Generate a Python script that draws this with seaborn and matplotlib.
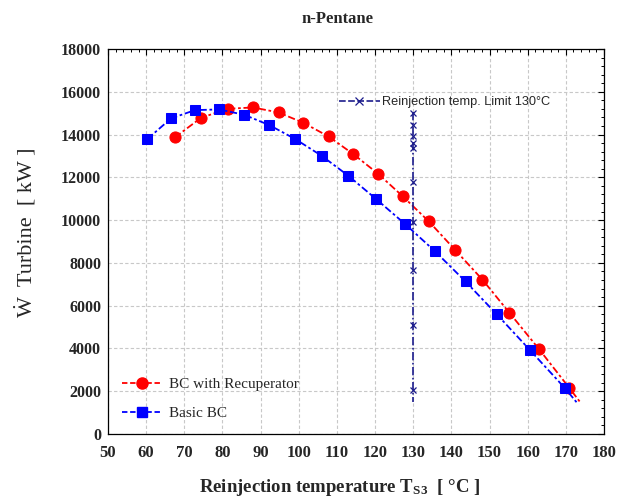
import matplotlib
matplotlib.use("Agg")
import matplotlib.pyplot as plt
from matplotlib.ticker import AutoMinorLocator
from matplotlib.lines import Line2D
import seaborn as sns
import pandas as pd

# ---- data ----
recup_T = [67.5, 74.4, 81.4, 88.0, 94.7, 101.2, 107.8, 114.3, 120.8, 127.3, 134.1,
           140.9, 148.1, 155.2, 162.9, 170.9, 173.7]
recup_W = [13864, 14784, 15205, 15267, 15034, 14550, 13911, 13085, 12165, 11105, 9937,
           8621, 7223, 5670, 3984, 2155, 1500]

basic_T = [60.3, 66.5, 72.8, 79.1, 85.7, 92.3, 99.1, 106.0, 113.0, 120.3, 127.9,
           135.7, 143.7, 151.9, 160.6, 169.7, 172.8]
basic_W = [13787, 14753, 15143, 15174, 14924, 14441, 13787, 13007, 12072, 10981, 9811,
           8544, 7130, 5596, 3922, 2155, 1487]

limit_T = [130, 130, 130, 130, 130, 130, 130, 130, 130, 130, 130, 130]
limit_W = [15060, 14987, 14441, 13926, 13583, 13350, 11791, 9920, 7689, 5080, 2078, 1490]

x_ticks = [50, 60, 70, 80, 90, 100, 110, 120, 130, 140, 150, 160, 170, 180]
y_ticks = [0, 2000, 4000, 6000, 8000, 10000, 12000, 14000, 16000, 18000]

title = "n-Pentane"
label_recup = "BC with Recuperator"
label_basic = "Basic BC"
label_limit = "Reinjection temp. Limit 130°C"

# ---- style ----
sns.set_theme(style="white")
plt.rcParams["font.family"] = ["Liberation Serif", "DejaVu Serif"]
plt.rcParams["mathtext.fontset"] = "stix"

fig = plt.figure(figsize=(6.37, 5.01), dpi=100)
ax = fig.add_axes([108 / 637, 1 - 434 / 501, 496 / 637, 385 / 501])

df_r = pd.DataFrame({"T": recup_T, "W": recup_W})
df_b = pd.DataFrame({"T": basic_T, "W": basic_W})
df_l = pd.DataFrame({"T": limit_T, "W": limit_W})

red = "#ff0000"
blue = "#0000ff"
navy = "#1c1c8c"

sns.lineplot(data=df_r, x="T", y="W", ax=ax, sort=False, estimator=None,
             color=red, lw=1.3, linestyle=(0, (4, 1.5, 1.5, 1.5)),
             marker="o", markersize=8, markeredgecolor=red, markerfacecolor=red,
             markevery=list(range(len(recup_T) - 1)))
sns.lineplot(data=df_b, x="T", y="W", ax=ax, sort=False, estimator=None,
             color=blue, lw=1.3, linestyle=(0, (4, 1.5, 1.5, 1.5)),
             marker="s", markersize=7.5, markeredgecolor=blue, markerfacecolor=blue,
             markevery=list(range(len(basic_T) - 1)))
sns.lineplot(data=df_l, x="T", y="W", ax=ax, sort=False, estimator=None,
             color=navy, lw=1.2, linestyle=(0, (5, 1.5, 1, 1.5)),
             marker="x", markersize=5, markeredgewidth=0.9, markeredgecolor=navy,
             markevery=list(range(1, len(limit_T) - 1)))

ax.set_xlim(50, 180)
ax.set_ylim(0, 18000)
ax.set_xticks(x_ticks)
ax.set_yticks(y_ticks)
ax.set_xticklabels([str(v) for v in x_ticks])
ax.set_yticklabels([str(v) for v in y_ticks])
ax.xaxis.set_minor_locator(AutoMinorLocator(5))
ax.yaxis.set_minor_locator(AutoMinorLocator(5))
ax.tick_params(axis="both", which="both", direction="in", top=True, right=True,
               color="black")
ax.tick_params(axis="both", which="major", length=4, width=0.8)
ax.tick_params(axis="x", which="major", pad=8)
ax.tick_params(axis="y", which="major", pad=5)
ax.tick_params(axis="both", which="minor", length=2.5, width=0.7)
for lab in ax.get_xticklabels():
    lab.set_fontweight("bold")
    lab.set_fontsize(12)
for lab in ax.get_yticklabels():
    lab.set_fontweight("bold")
    lab.set_fontsize(11.5)
for s in ax.spines.values():
    s.set_color("black")
    s.set_linewidth(0.9)

ax.grid(True, which="major", color="#c8c8c8", linestyle=(0, (3, 2)), linewidth=0.8)

ax.set_xlabel("Reinjection temperature T$_{\\mathregular{S3}}$  [ °C ]",
              fontsize=13.5, fontweight="bold")
ax.xaxis.set_label_coords((340 - 108) / 496, -(487 - 434) / 385)
ax.xaxis.label.set_va("center")
ax.set_ylabel("Ẇ  Turbine  [ kW ]", fontsize=16)
ax.yaxis.set_label_coords(-(108 - 26) / 496, (434 - 233) / 385)
ax.yaxis.label.set_va("center")
fig.text(337 / 637, 1 - 19 / 501, title, ha="center", va="center",
         fontsize=12, fontweight="bold")

# legends
h_r = Line2D([], [], color=red, lw=1.3, linestyle=(0, (3, 1.5)), marker="o",
             markersize=8, markerfacecolor=red, markeredgecolor=red)
h_b = Line2D([], [], color=blue, lw=1.3, linestyle=(0, (3, 1.5)), marker="s",
             markersize=7.5, markerfacecolor=blue, markeredgecolor=blue)
leg1 = ax.legend([h_r, h_b], [label_recup, label_basic], loc="lower left",
                 bbox_to_anchor=(0.0, 0.0), frameon=False, fontsize=11,
                 handlelength=2.6, handletextpad=0.5, labelspacing=1.0,
                 borderaxespad=0.5)
ax.add_artist(leg1)

h_l = Line2D([], [], color=navy, lw=1.2, linestyle=(0, (4, 1.5)), marker="x",
             markersize=6, markeredgewidth=0.9)
leg2 = ax.legend([h_l], [label_limit], loc="upper left",
                 bbox_to_anchor=(0.455, 0.89), frameon=False,
                 prop={"family": ["Liberation Sans", "DejaVu Sans"], "size": 9.2},
                 handlelength=3.2, handletextpad=0.2, borderaxespad=0.0)

fig.savefig("out.png", dpi=100)
